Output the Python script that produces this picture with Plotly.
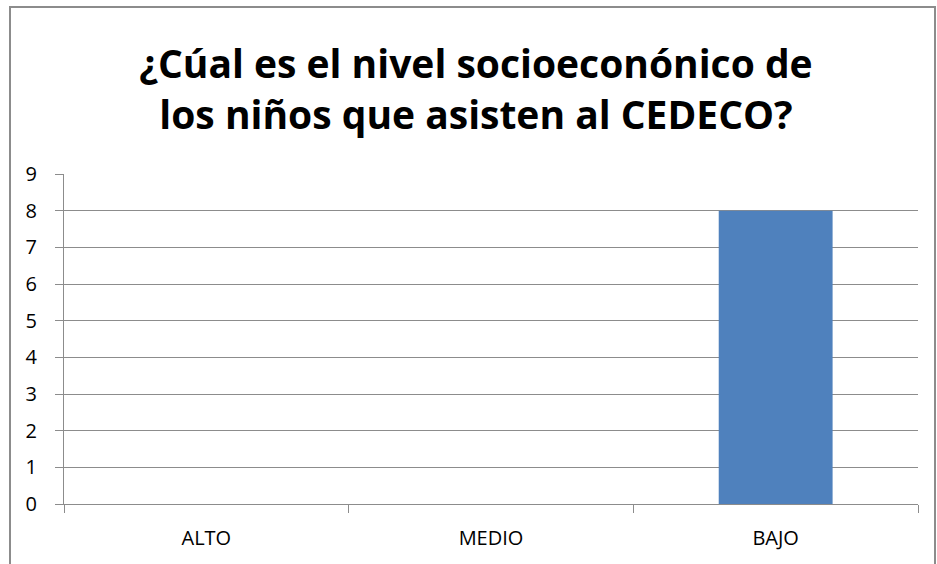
import plotly.graph_objects as go

niveles = ["ALTO", "MEDIO", "BAJO"]
ninos = [0, 0, 8]
y_ticks = list(range(0, 10))

line_gray = "#8c8c8c"

fig = go.Figure()
fig.add_trace(go.Bar(
    x=niveles,
    y=ninos,
    marker=dict(color="#4f81bd", line=dict(width=0)),
    width=0.4,
))

fig.update_layout(
    width=937,
    height=564,
    margin=dict(l=64, r=19, t=174, b=60),
    paper_bgcolor="white",
    plot_bgcolor="white",
    showlegend=False,
    title=dict(
        text="¿Cúal es el nivel socioeconónico de<br>los niños que asisten al CEDECO?",
        x=0.508,
        xanchor="center",
        y=1 - 78 / 564,
        yanchor="middle",
        font=dict(family="Open Sans", size=39, color="black", weight="bold"),
    ),
    font=dict(family="Open Sans", size=20, color="black"),
    bargap=0.6,
)

fig.update_yaxes(
    range=[0, 9],
    tickvals=y_ticks,
    showgrid=True,
    gridcolor=line_gray,
    gridwidth=1,
    showline=True,
    linecolor=line_gray,
    linewidth=1,
    ticks="outside",
    ticklen=8,
    tickcolor=line_gray,
    zeroline=False,
    ticklabelstandoff=14,
)

fig.update_xaxes(
    showline=True,
    linecolor=line_gray,
    linewidth=1,
    ticks="outside",
    tickson="boundaries",
    ticklen=8,
    tickcolor=line_gray,
    showgrid=False,
    ticklabelstandoff=16,
)

# chart frame
fig.add_shape(
    type="rect", xref="paper", yref="paper",
    x0=-54 / 854, x1=1.0 + 17 / 854, y0=-0.25, y1=1.0 + 167 / 330,
    line=dict(color="#8c8c8c", width=2),
    layer="below",
)

fig.write_html(
    "out.html",
    config={"displayModeBar": False},
    post_script="document.body.style.margin='0px';",
)
